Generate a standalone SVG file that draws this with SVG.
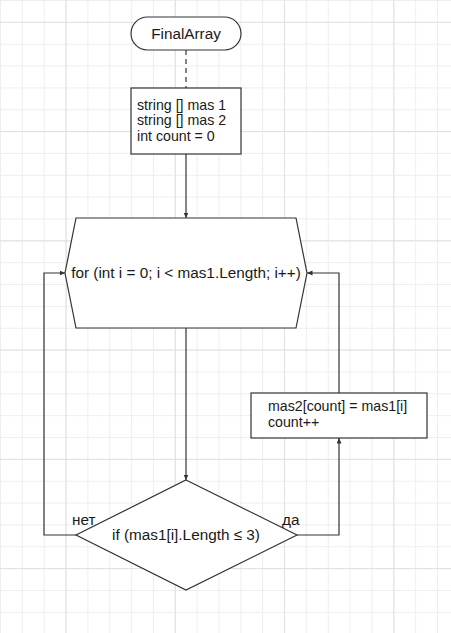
<svg xmlns="http://www.w3.org/2000/svg" width="451" height="633" viewBox="0 0 451 633">
  <style>
    .shape { fill: #ffffff; stroke: #333333; stroke-width: 1.2; }
    .edge { fill: none; stroke: #333333; stroke-width: 1.2; }
    .lbl { font-family: "Liberation Sans", Arial, sans-serif; font-size: 15.3px; fill: #1a1a1a; }
    .multi { font-size: 14.2px; }
    .mid { text-anchor: middle; }
  </style>
  <defs>
    <pattern id="minor" patternUnits="userSpaceOnUse" x="0" y="0" width="21.85" height="21.85">
      <path d="M0.5 0 V21.85 M0 0.5 H21.85" fill="none" stroke="#eeeeee" stroke-width="1"/>
    </pattern>
    <pattern id="major" patternUnits="userSpaceOnUse" x="65.55" y="21.85" width="109.25" height="109.25">
      <path d="M0.5 0 V109.25 M0 0.5 H109.25" fill="none" stroke="#e0e0e0" stroke-width="1"/>
    </pattern>
    <marker id="arr" markerUnits="userSpaceOnUse" markerWidth="6" markerHeight="6" refX="5.5" refY="2.5" orient="auto">
      <path d="M0 0 L5.5 2.5 L0 5 Z" fill="#333333"/>
    </marker>
  </defs>

  <rect x="0" y="0" width="451" height="633" fill="#ffffff"/>
  <rect x="0" y="0" width="451" height="633" fill="url(#minor)"/>
  <rect x="0" y="0" width="451" height="633" fill="url(#major)"/>

  <g id="connectors">
    <path class="edge" d="M186 50 V88" stroke-dasharray="5 4"/>
    <path class="edge" d="M186 154 V218" marker-end="url(#arr)"/>
    <path class="edge" d="M186 328 V480" marker-end="url(#arr)"/>
    <path class="edge" d="M76 535 H44 V273 H65" marker-end="url(#arr)"/>
    <path class="edge" d="M297 535 H339 V438" marker-end="url(#arr)"/>
    <path class="edge" d="M339 393 V273 H307" marker-end="url(#arr)"/>
  </g>

  <g id="start">
    <rect class="shape" x="131" y="17" width="110" height="33" rx="16.5" ry="16.5"/>
    <text class="lbl mid" x="186" y="39">FinalArray</text>
  </g>

  <g id="init">
    <rect class="shape" x="131" y="88" width="110" height="66"/>
    <text class="lbl multi" x="137" y="109.5">string [] mas 1<tspan x="137" y="125.4">string [] mas 2</tspan><tspan x="137" y="141.3">int count = 0</tspan></text>
  </g>

  <g id="loop">
    <polygon class="shape" points="76,218 296,218 307,273 296,328 76,328 65,273"/>
    <text class="lbl mid" x="186" y="278">for (int i = 0; i &lt; mas1.Length; i++)</text>
  </g>

  <g id="assign">
    <rect class="shape" x="251" y="393" width="176" height="45"/>
    <text class="lbl multi" x="268" y="411">mas2[count] = mas1[i]<tspan x="268" y="427">count++</tspan></text>
  </g>

  <g id="cond">
    <polygon class="shape" points="186,480 297,535 186,590 76,535"/>
    <text class="lbl mid" x="186" y="540">if (mas1[i].Length ≤ 3)</text>
  </g>

  <g id="labels">
    <text class="lbl" x="72" y="525">нет</text>
    <text class="lbl" x="282" y="525">да</text>
  </g>
</svg>
